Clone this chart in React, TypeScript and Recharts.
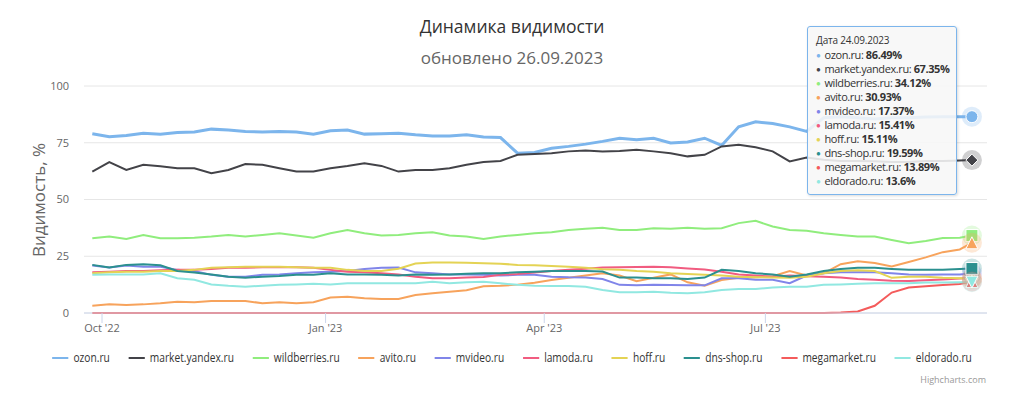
import { LineChart, Line, XAxis, YAxis, CartesianGrid } from "recharts";

// weekly readings, 27.09.2022 .. 24.09.2023
const dates = [
  "2022-09-27", "2022-10-04", "2022-10-11", "2022-10-18", "2022-10-25",
  "2022-11-01", "2022-11-08", "2022-11-15", "2022-11-22", "2022-11-29",
  "2022-12-06", "2022-12-13", "2022-12-20", "2022-12-27",
  "2023-01-03", "2023-01-10", "2023-01-17", "2023-01-24", "2023-01-31",
  "2023-02-07", "2023-02-14", "2023-02-21", "2023-02-28",
  "2023-03-07", "2023-03-14", "2023-03-21", "2023-03-28",
  "2023-04-04", "2023-04-11", "2023-04-18", "2023-04-25",
  "2023-05-02", "2023-05-09", "2023-05-16", "2023-05-23", "2023-05-30",
  "2023-06-06", "2023-06-13", "2023-06-20", "2023-06-27",
  "2023-07-04", "2023-07-11", "2023-07-18", "2023-07-25",
  "2023-08-01", "2023-08-08", "2023-08-15", "2023-08-22", "2023-08-29",
  "2023-09-05", "2023-09-12", "2023-09-19", "2023-09-24",
];

const ozon = [
  79, 77.6, 78.2, 79.2, 78.8, 79.5, 79.7, 81, 80.6, 80, 79.7, 80, 79.7, 78.8,
  80.3, 80.6, 78.8, 79, 79.2, 78.5, 78, 78, 78.5, 77.5, 77.3, 70.4, 70.7,
  72.6, 73.4, 74.4, 75.6, 77, 76.3, 77, 74.9, 75.3, 77, 73.8, 82, 84.2,
  83.5, 82, 80, 86, 86.5, 86, 85.5, 86, 86, 86.3, 86.5, 86.5, 86.49,
];
const yandex = [
  62.3, 66.5, 63, 65.3, 64.6, 63.8, 63.8, 61.6, 63, 65.6, 65.3, 63.8, 62.3, 62.3,
  63.8, 64.8, 66, 64.8, 62.3, 63, 63, 63.8, 65.3, 66.5, 67, 69.7, 70,
  70.4, 71.2, 71.6, 71.2, 71.4, 71.9, 71.2, 70.4, 69, 69.7, 73.4, 74.1, 73,
  71.2, 66.8, 68.5, 67.5, 67, 67, 66.8, 66.5, 66.5, 67, 67, 67.2, 67.35,
];
const wildberries = [
  32.9, 33.7, 32.6, 34.4, 32.9, 32.9, 33.2, 33.7, 34.4, 33.7, 34.4, 35.1, 34.1, 33.2,
  35.1, 36.6, 35.1, 34.1, 34.4, 35.1, 35.6, 34.1, 33.7, 32.6, 33.7, 34.4, 35.1,
  35.6, 36.6, 37.1, 37.6, 36.6, 36.6, 37.3, 37.1, 37.6, 37.1, 37.3, 39.6, 40.6,
  38.1, 36.6, 36.2, 35.1, 34.4, 33.7, 33.7, 32.2, 30.7, 31.7, 33, 33.2, 34.12,
];
const avito = [
  3.2, 3.8, 3.5, 3.8, 4.3, 5, 4.7, 5.3, 5.3, 5.3, 4.3, 4.7, 4.3, 4.7,
  6.8, 7.2, 6.5, 6.2, 6.2, 7.9, 8.7, 9.4, 10, 11.8, 12, 12.5, 13.3,
  14.5, 15.5, 16.5, 17.5, 16.5, 14, 15.5, 17, 13.5, 12, 14.5, 15.5, 15.8,
  16.2, 18.5, 16.5, 17.5, 21.5, 22.8, 22, 20.5, 22.5, 24.5, 26.8, 28, 30.93,
];
const mvideo = [
  20.9, 20, 20.9, 20.4, 20.4, 19, 18.5, 16.8, 16, 16, 16.8, 17, 17.5, 18,
  18.2, 18.5, 19.4, 19.9, 20, 17.9, 17.5, 17, 17, 16.8, 16.5, 16.8, 16.8,
  16, 15.7, 15.6, 15, 12.4, 12.2, 12.4, 12.3, 12.2, 12.2, 15.3, 15.3, 14.6,
  14.6, 13.1, 16.5, 17.5, 18, 18, 18, 17.5, 17, 16.8, 17, 17, 17.37,
];
const lamoda = [
  17.9, 18.2, 18.5, 18.5, 18.8, 19, 19, 19.4, 19.9, 19.9, 20.1, 20.1, 20.1, 19.9,
  19, 18.2, 17.9, 17.5, 17, 16, 15.3, 15.3, 15.6, 15.9, 16.8, 17.2, 17.8,
  18.5, 19, 19.5, 20, 20.2, 20.3, 20.4, 20.1, 19.6, 19.2, 18.2, 17, 16.5,
  16, 16.5, 16.2, 16, 15.6, 15, 14.6, 14.2, 14.1, 14.4, 14.8, 15.2, 15.41,
];
const hoff = [
  17.5, 17.9, 18.2, 18.2, 18.5, 18.5, 19, 19.9, 20.1, 20.4, 20.4, 20.4, 20.1, 19.9,
  19.9, 19, 18.5, 18.5, 19.5, 21.8, 22.2, 22.3, 22.1, 21.9, 21.7, 21.2, 21,
  20.7, 20.4, 19.9, 19.3, 19, 18.5, 18.2, 17.5, 17.2, 16.8, 16.5, 16, 15.8,
  15.6, 15.5, 16, 17.5, 18.5, 18.8, 18.5, 15.5, 16, 16, 15.5, 15.3, 15.11,
];
const dnsShop = [
  21.2, 20, 21.2, 21.5, 21, 18.5, 17.8, 17, 16, 15.5, 16, 16.3, 16.8, 16.8,
  17.5, 17, 17, 16.8, 16.5, 17, 16.8, 17, 17.3, 17.5, 17.5, 18, 18.2,
  18.5, 18.5, 18.5, 18.3, 15.6, 15.6, 15.3, 15.3, 15, 15.6, 19, 18.5, 17.5,
  17, 16, 17, 18.5, 19.4, 19.9, 19.9, 19.4, 19, 19, 19, 19.4, 19.59,
];
const megamarket = [
  0, 0, 0, 0, 0, 0, 0, 0, 0, 0, 0, 0, 0, 0,
  0, 0, 0, 0, 0, 0, 0, 0, 0, 0, 0, 0, 0,
  0, 0, 0, 0, 0, 0, 0, 0, 0, 0, 0, 0, 0,
  0, 0, 0, 0, 0.2, 0.7, 3.2, 9, 11.2, 11.8, 12.3, 12.8, 13.89,
];
const eldorado = [
  16.8, 17, 17, 17, 17.5, 15.3, 14.6, 12.6, 12, 11.6, 12, 12.4, 12.6, 12.9,
  12.6, 13.1, 13.1, 13.1, 13.1, 13.1, 13.8, 13.1, 13.5, 13.8, 13.1, 12.4, 12,
  11.9, 11.9, 11.6, 10.1, 9.1, 9.1, 9.4, 8.9, 8.7, 9.1, 10.1, 10.6, 10.6,
  11.2, 11.6, 11.6, 12.4, 12.6, 12.9, 13.1, 13.1, 13.1, 13.4, 13.4, 13.5, 13.6,
];

const xTicks = ["2022-10-01", "2023-01-01", "2023-04-01", "2023-07-01"];
const yTicks = [0, 25, 50, 75, 100];
const months = ["Jan", "Feb", "Mar", "Apr", "May", "Jun", "Jul", "Aug", "Sep", "Oct", "Nov", "Dec"];

const series = [
  { key: "ozon", name: "ozon.ru", color: "#7cb5ec", values: ozon, symbol: "circle", width: 3 },
  { key: "yandex", name: "market.yandex.ru", color: "#434348", values: yandex, symbol: "diamond", width: 2 },
  { key: "wildberries", name: "wildberries.ru", color: "#90ed7d", values: wildberries, symbol: "square", width: 2 },
  { key: "avito", name: "avito.ru", color: "#f7a35c", values: avito, symbol: "triangle", width: 2 },
  { key: "mvideo", name: "mvideo.ru", color: "#8085e9", values: mvideo, symbol: "triangle-down", width: 2 },
  { key: "lamoda", name: "lamoda.ru", color: "#f15c80", values: lamoda, symbol: "circle", width: 2 },
  { key: "hoff", name: "hoff.ru", color: "#e4d354", values: hoff, symbol: "diamond", width: 2 },
  { key: "dnsShop", name: "dns-shop.ru", color: "#2b908f", values: dnsShop, symbol: "square", width: 2 },
  { key: "megamarket", name: "megamarket.ru", color: "#f45b5b", values: megamarket, symbol: "triangle", width: 2 },
  { key: "eldorado", name: "eldorado.ru", color: "#91e8e1", values: eldorado, symbol: "triangle-down", width: 2 },
];

const toTime = (s: string) => {
  const [y, m, d] = s.split("-").map(Number);
  return Date.UTC(y, m - 1, d);
};

const rows = dates.map((d, i) => {
  const row: Record<string, number> = { t: toTime(d) };
  series.forEach((s) => (row[s.key] = s.values[i]));
  return row;
});

const lastIndex = dates.length - 1;
const xMin = Date.UTC(2022, 8, 23, 14);
const xMax = Date.UTC(2023, 8, 30, 5);

const fmtTick = (v: number) => {
  const d = new Date(v);
  return `${months[d.getUTCMonth()]} '${String(d.getUTCFullYear()).slice(2)}`;
};

const FONT = "'Open Sans', 'Noto Sans', sans-serif";

function marker(symbol: string, color: string) {
  return (props: any) => {
    const { cx, cy, index } = props;
    if (index !== lastIndex || cx == null || cy == null) return <g key={`m-${index}`} />;
    const r = 6;
    let shape;
    if (symbol === "circle") shape = <circle cx={cx} cy={cy} r={r} />;
    else if (symbol === "square") shape = <rect x={cx - r} y={cy - r} width={r * 2} height={r * 2} />;
    else if (symbol === "diamond")
      shape = <polygon points={`${cx},${cy - r} ${cx + r},${cy} ${cx},${cy + r} ${cx - r},${cy}`} />;
    else if (symbol === "triangle")
      shape = <polygon points={`${cx},${cy - r} ${cx + r},${cy + r} ${cx - r},${cy + r}`} />;
    else shape = <polygon points={`${cx - r},${cy - r} ${cx + r},${cy - r} ${cx},${cy + r}`} />;
    return (
      <g key={`m-${index}`}>
        <circle cx={cx} cy={cy} r={10} fill={color} fillOpacity={0.25} />
        <g fill={color} stroke="#fff" strokeWidth={1}>
          {shape}
        </g>
      </g>
    );
  };
}

export default function App() {
  return (
    <div style={{ position: "absolute", left: 0, top: 0, width: 1024, height: 398, background: "#fff", fontFamily: FONT }}>
      <div style={{ position: "absolute", top: 14, width: 1024, textAlign: "center", fontSize: 17.5, color: "#333" }}>
        Динамика видимости
      </div>
      <div style={{ position: "absolute", top: 46, width: 1024, textAlign: "center", fontSize: 17, color: "#666" }}>
        обновлено 26.09.2023
      </div>
      <div
        style={{
          position: "absolute", left: 38, top: 200, transform: "translate(-50%, -50%) rotate(-90deg)",
          whiteSpace: "nowrap", fontSize: 17, color: "#666",
        }}
      >
        Видимость, %
      </div>

      <LineChart width={1024} height={398} data={rows} margin={{ top: 86, right: 37, bottom: 55, left: 40 }}>
        <CartesianGrid vertical={false} stroke="#e6e6e6" />
        <XAxis
          dataKey="t"
          type="number"
          domain={[xMin, xMax]}
          allowDataOverflow
          ticks={xTicks.map(toTime)}
          tickFormatter={fmtTick}
          height={30}
          stroke="#ccd6eb"
          tickSize={10}
          tickMargin={1}
          tick={{ fontSize: 11, fill: "#666", fontFamily: FONT }}
        />
        <YAxis
          domain={[0, 100]}
          ticks={yTicks}
          width={44}
          axisLine={false}
          tickLine={false}
          tickSize={0}
          tickMargin={15}
          tick={{ fontSize: 11, fill: "#666", fontFamily: FONT }}
        />
        {series.map((s) => (
          <Line
            key={s.key}
            dataKey={s.key}
            type="linear"
            stroke={s.color}
            strokeWidth={s.width}
            dot={marker(s.symbol, s.color)}
            activeDot={false}
            isAnimationActive={false}
          />
        ))}
      </LineChart>

      <div
        style={{
          position: "absolute", left: 807, top: 26, width: 150, height: 169, boxSizing: "border-box",
          background: "rgba(247,247,247,0.88)", border: "1px solid #7cb5ec", borderRadius: 3,
          boxShadow: "1px 1px 3px rgba(0,0,0,0.15)", padding: "7px 8px", color: "#333",
        }}
      >
        <div style={{ fontSize: 10, lineHeight: "13px", marginBottom: 1, letterSpacing: -0.2 }}>Дата 24.09.2023</div>
        {series.map((s) => (
          <div key={s.key} style={{ fontSize: 11, lineHeight: "14px", whiteSpace: "nowrap", letterSpacing: -0.4 }}>
            <span style={{ color: s.color, fontSize: 8, marginRight: 4, verticalAlign: "1px" }}>●</span>
            {s.name}: <b>{s.values[lastIndex]}%</b>
          </div>
        ))}
      </div>

      <div
        style={{
          position: "absolute", top: 349, left: 0, width: 1024, display: "flex", justifyContent: "center",
          transform: "scaleX(0.85)", transformOrigin: "512px 0",
        }}
      >
        <div style={{ display: "flex", gap: 22, fontSize: 12, color: "#333", whiteSpace: "nowrap" }}>
          {series.map((s) => (
            <div key={s.key} style={{ display: "flex", alignItems: "center" }}>
              <span style={{ display: "inline-block", width: 19, height: 2, background: s.color, marginRight: 6 }} />
              {s.name}
            </div>
          ))}
        </div>
      </div>

      <div style={{ position: "absolute", top: 373, right: 38, fontSize: 9, color: "#999" }}>Highcharts.com</div>
    </div>
  );
}
